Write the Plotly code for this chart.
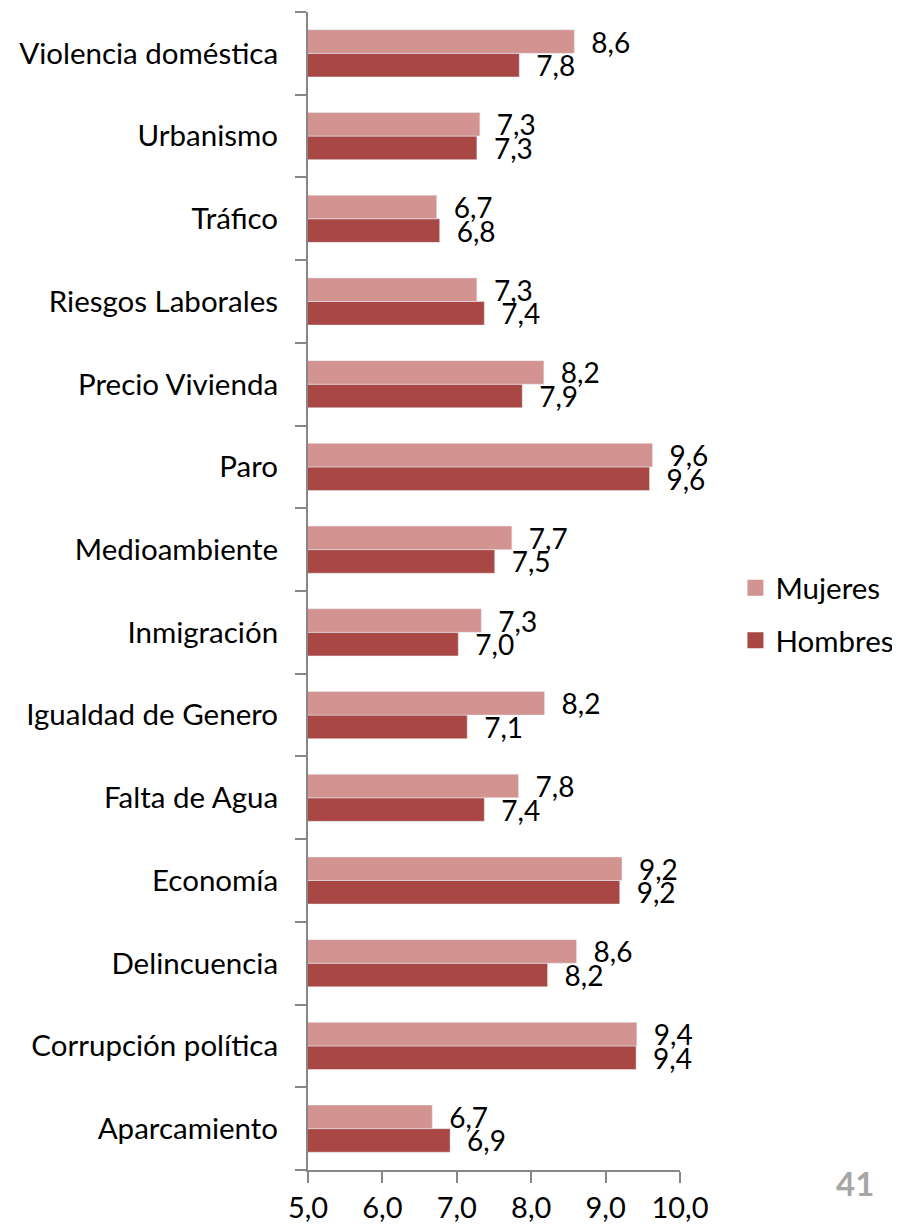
import plotly.graph_objects as go

# categorias de abajo hacia arriba (orden del eje)
categorias = ['Aparcamiento', 'Corrupción política', 'Delincuencia', 'Economía',
              'Falta de Agua', 'Igualdad de Genero', 'Inmigración', 'Medioambiente',
              'Paro', 'Precio Vivienda', 'Riesgos Laborales', 'Tráfico',
              'Urbanismo', 'Violencia doméstica']

mujeres = [6.67, 9.42, 8.61, 9.22, 7.83, 8.18, 7.33, 7.74, 9.63, 8.17, 7.27, 6.73, 7.31, 8.58]
hombres = [6.91, 9.41, 8.22, 9.19, 7.37, 7.14, 7.02, 7.51, 9.59, 7.88, 7.37, 6.77, 7.27, 7.84]

ticks_x = [5, 6, 7, 8, 9, 10]

color_mujeres = '#D39391'
color_hombres = '#A94745'
gris_eje = '#868686'
fuente = 'Lato'


def etiqueta(v):
    return f'{v:.1f}'.replace('.', ',')


fig = go.Figure()

# Hombres primero -> queda abajo dentro de cada grupo
fig.add_trace(go.Bar(y=categorias, x=hombres, orientation='h', name='Hombres',
                     marker_color=color_hombres, showlegend=False,
                     text=[etiqueta(v) for v in hombres], texttemplate='\u2002%{text}',
                     textposition='outside', constraintext='none', cliponaxis=False,
                     textfont=dict(family=fuente, size=28, color='black')))
fig.add_trace(go.Bar(y=categorias, x=mujeres, orientation='h', name='Mujeres',
                     marker_color=color_mujeres, showlegend=False,
                     text=[etiqueta(v) for v in mujeres], texttemplate='\u2002%{text}',
                     textposition='outside', constraintext='none', cliponaxis=False,
                     textfont=dict(family=fuente, size=28, color='black')))

# entradas de leyenda
fig.add_trace(go.Scatter(x=[None], y=[None], mode='markers', name='Mujeres',
                         marker=dict(symbol='square', size=16, color=color_mujeres),
                         legendgroup='m'))
fig.add_trace(go.Scatter(x=[None], y=[None], mode='markers', name='Hombres',
                         marker=dict(symbol='square', size=16, color=color_hombres),
                         legendgroup='h'))

# la pagina deja 8px de margen en el body
fig.update_layout(
    width=892, height=1218,
    margin=dict(l=300, r=220, t=4, b=56, autoexpand=False),
    plot_bgcolor='white', paper_bgcolor='white',
    separators=',.',
    barmode='group', bargap=0.43, bargroupgap=0,
    font=dict(family=fuente, size=28, color='black'),
    legend=dict(x=1.149, xanchor='left', y=0.48, yanchor='middle',
                traceorder='grouped', tracegroupgap=11,
                font=dict(family=fuente, size=29.5, color='black')),
)

fig.update_xaxes(range=[5, 10], tickvals=ticks_x, tickformat='.1f',
                 showgrid=False, zeroline=False, automargin=False,
                 showline=True, linecolor=gris_eje, linewidth=2,
                 ticks='outside', ticklen=11, tickcolor=gris_eje, tickwidth=2,
                 ticklabelstandoff=0,
                 tickfont=dict(family=fuente, size=29, color='black'))
fig.update_yaxes(categoryorder='array', categoryarray=categorias,
                 showgrid=False, automargin=False,
                 showline=True, linecolor=gris_eje, linewidth=2,
                 ticks='outside', ticklen=11, tickcolor=gris_eje, tickwidth=2,
                 tickson='boundaries', ticklabelstandoff=22,
                 tickfont=dict(family=fuente, size=29.5, color='black'))

fig.add_annotation(text='<b>41</b>', xref='paper', yref='paper',
                   x=(855 - 308) / 372, y=-(1183 - 1170) / 1158,
                   xanchor='center', yanchor='middle',
                   showarrow=False, font=dict(family=fuente, size=33, color='#A6A6A6'))

fig.write_html('out.html')
